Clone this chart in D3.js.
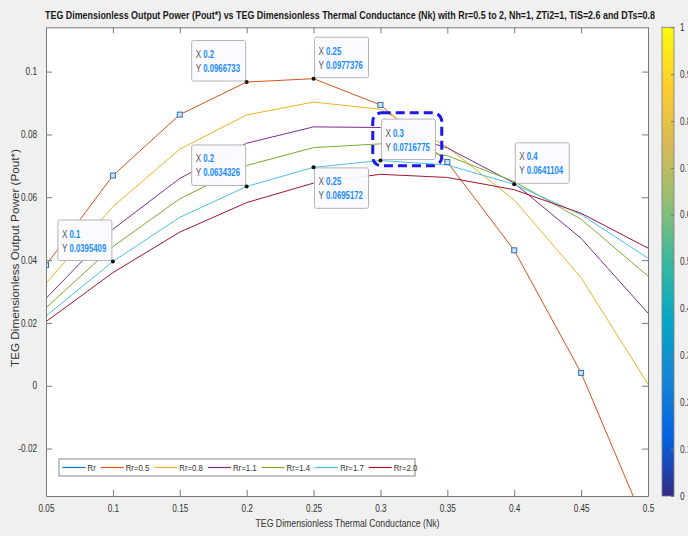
<!DOCTYPE html>
<html>
<head>
<meta charset="utf-8">
<script src="https://cdn.jsdelivr.net/npm/d3@7"></script>
<style>
  html, body { margin: 0; padding: 0; background: #F0F0F0; }
  svg { display: block; }
</style>
</head>
<body>
<svg id="chart" width="688" height="536"></svg>
<script>
// ---------------- DATA ----------------
const nk = [0.05, 0.1, 0.15, 0.2, 0.25, 0.3, 0.35, 0.4, 0.45, 0.5];
const seriesNames = ["Rr", "Rr=0.5", "Rr=0.8", "Rr=1.1", "Rr=1.4", "Rr=1.7", "Rr=2.0"];
const rrBase = [];   // "Rr" entry: no visible points
const rr05 = [0.0384, 0.0669, 0.0863, 0.0966733, 0.0977376, 0.0894, 0.0712, 0.0431, 0.0041, -0.0463];
const rr08 = [0.0326, 0.0570, 0.0753, 0.0862, 0.0903, 0.0880, 0.0760, 0.0591, 0.0344, 0.0005];
const rr11 = [0.0278, 0.0498, 0.0660, 0.0772, 0.0824, 0.0822, 0.0757, 0.0645, 0.0469, 0.0231];
const rr14 = [0.0248, 0.0443, 0.0595, 0.0701, 0.0758, 0.0770, 0.0732, 0.0650, 0.0530, 0.0349];
const rr17 = [0.0222, 0.0395409, 0.0536, 0.0634326, 0.0695172, 0.0716775, 0.0703, 0.0641104, 0.0545, 0.0406];
const rr20 = [0.0204, 0.0360, 0.0489, 0.0583, 0.0645, 0.0673, 0.0663, 0.0624, 0.0549, 0.0438];
const seriesValues = [rrBase, rr05, rr08, rr11, rr14, rr17, rr20];

const xTicks = [0.05, 0.1, 0.15, 0.2, 0.25, 0.3, 0.35, 0.4, 0.45, 0.5];
const yTicks = [-0.02, 0, 0.02, 0.04, 0.06, 0.08, 0.1];
const cbTicks = [0, 0.1, 0.2, 0.3, 0.4, 0.5, 0.6, 0.7, 0.8, 0.9, 1];

// data tips: x value and the series they sit on (index in seriesValues)
const tipX = [0.1, 0.2, 0.2, 0.25, 0.25, 0.3, 0.4];
const tipSeries = [5, 1, 5, 1, 5, 5, 5];
// square markers on the Rr=0.5 curve
const squareX = [0.05, 0.1, 0.15, 0.3, 0.35, 0.4, 0.45];

const titleText = "TEG Dimensionless Output Power (Pout*) vs TEG Dimensionless Thermal Conductance (Nk) with Rr=0.5 to 2, Nh=1, ZTi2=1, TiS=2.6 and DTs=0.8";
const xLabel = "TEG Dimensionless Thermal Conductance (Nk)";
const yLabel = "TEG Dimensionless Output Power (Pout*)";

// ---------------- STYLE / LAYOUT ----------------
const colors = ["#0072BD", "#D95319", "#EDB120", "#7E2F8E", "#77AC30", "#4DBEEE", "#A2142F"];
const tipPlacement = ["nw", "nw", "nw", "ne", "se", "ne", "ne"];
const highlightTip = 5;
const font = "'Liberation Sans',Arial,Helvetica,sans-serif";
const NARROW = 0.82;
const axisColor = "#7a7a7a";
const textColor = "#333333";

function narrowize(sel, factor) {
  sel.each(function () {
    const w = this.getComputedTextLength();
    d3.select(this).attr("textLength", w * (factor || NARROW)).attr("lengthAdjust", "spacingAndGlyphs");
  });
}

const plot = { left: 46, right: 648, top: 27.3, bottom: 496 };
const svg = d3.select("#chart");
const defs = svg.append("defs");

const x = d3.scaleLinear().domain([0.05, 0.5]).range([plot.left, plot.right]);
const y = d3.scaleLinear().domain([-0.0351, 0.1141]).range([plot.bottom, plot.top]);

// axes background
svg.append("rect").attr("x", plot.left).attr("y", plot.top)
  .attr("width", plot.right - plot.left).attr("height", plot.bottom - plot.top)
  .attr("fill", "#ffffff");

defs.append("clipPath").attr("id", "clip")
  .append("rect").attr("x", plot.left).attr("y", plot.top)
  .attr("width", plot.right - plot.left).attr("height", plot.bottom - plot.top);

// lines
const line = d3.line().x((d, i) => x(nk[i])).y(d => y(d));
const gLines = svg.append("g").attr("clip-path", "url(#clip)");
seriesValues.forEach((vals, si) => {
  if (!vals.length) return;
  gLines.append("path").datum(vals)
    .attr("d", line)
    .attr("fill", "none")
    .attr("stroke", colors[si])
    .attr("stroke-width", 1);
});

// square markers
gLines.selectAll("rect.sq").data(squareX).enter().append("rect")
  .attr("class", "sq")
  .attr("x", d => x(d) - 2.5)
  .attr("y", d => y(rr05[nk.indexOf(d)]) - 2.5)
  .attr("width", 5).attr("height", 5)
  .attr("fill", "#cfe3f5").attr("stroke", "#2f6fb5").attr("stroke-width", 1);

// axes
const ticklen = 6;
const xAxisB = d3.axisBottom(x).tickValues(xTicks).tickSizeInner(-ticklen).tickSizeOuter(0)
  .tickFormat(d => String(+d.toFixed(2))).tickPadding(9);
const xAxisT = d3.axisTop(x).tickValues(xTicks).tickSizeInner(-ticklen).tickSizeOuter(0).tickFormat("");
const yAxisL = d3.axisLeft(y).tickValues(yTicks).tickSizeInner(-ticklen).tickSizeOuter(0)
  .tickFormat(d => String(+d.toFixed(2))).tickPadding(9);
const yAxisR = d3.axisRight(y).tickValues(yTicks).tickSizeInner(-ticklen).tickSizeOuter(0).tickFormat("");

function styleAxis(g) {
  g.select(".domain").attr("stroke", axisColor);
  g.selectAll(".tick line").attr("stroke", axisColor);
  g.selectAll(".tick text").attr("fill", textColor).attr("font-family", font).attr("font-size", 10)
    .call(narrowize);
}
svg.append("g").attr("transform", `translate(0,${plot.bottom})`).call(xAxisB).call(styleAxis);
svg.append("g").attr("transform", `translate(0,${plot.top})`).call(xAxisT).call(styleAxis);
svg.append("g").attr("transform", `translate(${plot.left},0)`).call(yAxisL).call(styleAxis);
svg.append("g").attr("transform", `translate(${plot.right},0)`).call(yAxisR).call(styleAxis);

// title & labels
svg.append("text").attr("x", 350).attr("y", 19).attr("text-anchor", "middle")
  .attr("font-family", font).attr("font-weight", "bold").attr("font-size", 11)
  .attr("fill", "#1a1a1a").attr("textLength", 610).attr("lengthAdjust", "spacingAndGlyphs")
  .text(titleText);
svg.append("text").attr("x", 347.5).attr("y", 527).attr("text-anchor", "middle")
  .attr("font-family", font).attr("font-size", 10.5).attr("fill", textColor)
  .attr("textLength", 184).attr("lengthAdjust", "spacingAndGlyphs")
  .text(xLabel);
svg.append("text").attr("transform", "translate(19,258) rotate(-90)").attr("text-anchor", "middle")
  .attr("font-family", font).attr("font-size", 11).attr("fill", textColor)
  .attr("textLength", 218).attr("lengthAdjust", "spacingAndGlyphs")
  .text(yLabel);

// legend
const lg = svg.append("g");
lg.append("rect").attr("x", 59).attr("y", 459).attr("width", 356).attr("height", 17)
  .attr("fill", "#ffffff").attr("stroke", "#8a8a8a").attr("stroke-width", 1);
let cx = 62.5;
seriesNames.forEach((name, i) => {
  lg.append("line").attr("x1", cx).attr("x2", cx + 23).attr("y1", 467.5).attr("y2", 467.5)
    .attr("stroke", colors[i]).attr("stroke-width", 1.2);
  const t = lg.append("text").attr("x", cx + 25).attr("y", 471)
    .attr("font-family", font).attr("font-size", 9.5).attr("fill", textColor).text(name);
  const w = t.node().getComputedTextLength() * NARROW;
  t.attr("textLength", w).attr("lengthAdjust", "spacingAndGlyphs");
  cx = cx + 25 + w + 5;
});

// data tips
const tipW = 54, tipH = 40.5;
const fmt = v => String(+v.toPrecision(6));
tipX.forEach((tx, k) => {
  const vals = seriesValues[tipSeries[k]];
  const ty = vals[nk.indexOf(tx)];
  const px = x(tx), py = y(ty);
  const pl = tipPlacement[k];
  const left = pl.includes("w") ? px - tipW - 1 : px + 1;
  const top = pl.includes("n") ? py - tipH - 1 : py + 0.5;
  const g = svg.append("g");
  if (k === highlightTip) {
    g.append("rect").attr("x", left - 8.7).attr("y", top - 6.3)
      .attr("width", tipW + 15).attr("height", tipH + 12.6)
      .attr("rx", 9).attr("ry", 9)
      .attr("fill", "none").attr("stroke", "#1a1aee").attr("stroke-width", 3)
      .attr("stroke-dasharray", "9,5");
  }
  g.append("rect").attr("x", left).attr("y", top).attr("width", tipW).attr("height", tipH)
    .attr("rx", 2).attr("fill", "#fbfbff").attr("fill-opacity", 0.95)
    .attr("stroke", "#b4b4b4").attr("stroke-width", 1);
  const rows = [["X", fmt(tx)], ["Y", fmt(ty)]];
  rows.forEach((r, j) => {
    const by = top + 17.5 + j * 14;
    g.append("text").attr("x", left + 4).attr("y", by)
      .attr("font-family", font).attr("font-size", 10).attr("fill", "#555555")
      .text(r[0]).call(narrowize);
    g.append("text").attr("x", left + 11.5).attr("y", by)
      .attr("font-family", font).attr("font-size", 10).attr("font-weight", "bold").attr("fill", "#1a8cff")
      .text(r[1]).call(narrowize, 0.78);
  });
  svg.append("circle").attr("cx", px).attr("cy", py).attr("r", 2).attr("fill", "#111");
});

// colorbar (parula)
const parula = ["#352a87", "#0363e1", "#1485d4", "#06a7c6", "#38b99e", "#92bf73", "#d9ba56", "#fcce2e", "#f9fb0e"];
const cb = { left: 662, right: 674, top: 27.3, bottom: 496 };
const cbScale = d3.scaleLinear().domain([0, 1]).range([cb.bottom, cb.top]);
const grad = defs.append("linearGradient").attr("id", "parula")
  .attr("x1", 0).attr("y1", 1).attr("x2", 0).attr("y2", 0);
parula.forEach((c, i) => grad.append("stop").attr("offset", i / (parula.length - 1)).attr("stop-color", c));
svg.append("rect").attr("x", cb.left).attr("y", cb.top).attr("width", cb.right - cb.left)
  .attr("height", cb.bottom - cb.top).attr("fill", "url(#parula)")
  .attr("stroke", axisColor).attr("stroke-width", 0.8);
const cbAxis = d3.axisRight(cbScale).tickValues(cbTicks).tickSizeInner(-3).tickSizeOuter(0)
  .tickFormat(d => String(+d.toFixed(1))).tickPadding(6);
svg.append("g").attr("transform", `translate(${cb.right},0)`).call(cbAxis)
  .call(g => { g.select(".domain").remove(); g.selectAll(".tick line").attr("stroke", axisColor);
               g.selectAll(".tick text").attr("fill", textColor).attr("font-family", font).attr("font-size", 10).call(narrowize); });
</script>
</body>
</html>
